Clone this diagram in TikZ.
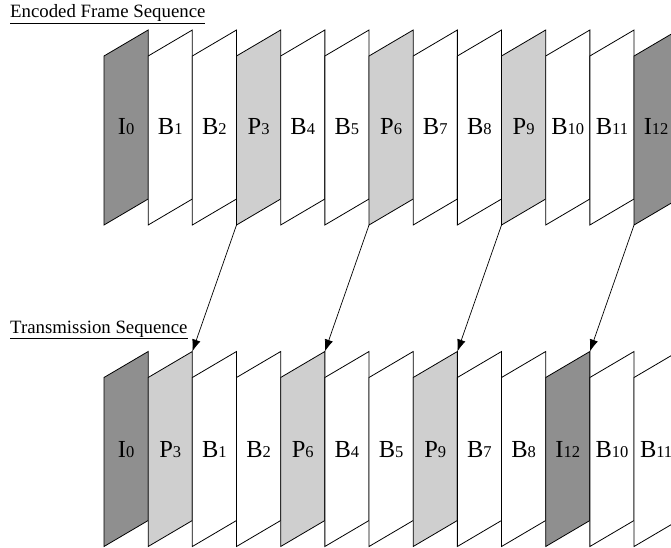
\documentclass[tikz,border=0pt]{standalone}
\usepackage{fontspec}
\setmainfont{Liberation Serif}
\usetikzlibrary{arrows.meta}
\definecolor{iframe}{RGB}{143,143,143}
\definecolor{pframe}{RGB}{207,207,207}
\tikzset{
  frm/.style={draw=black, line width=0.8pt, line join=miter},
  lbl/.style={inner sep=0pt, anchor=base},
  ttl/.style={inner sep=0pt, anchor=base west, font=\fontsize{18.8}{18.8}\selectfont},
  link/.style={-{Latex[length=12pt,width=8.5pt]}, line width=0.7pt}
}
\newcommand{\flabel}[2]{{\fontsize{24.5}{24.5}\selectfont #1}{\fontsize{16.5}{16.5}\selectfont #2}}
\begin{document}
\begin{tikzpicture}[x=1pt,y=-1pt]
\useasboundingbox (0,0) rectangle (671,548);
\clip (0,0) rectangle (671,548);
% titles
\node[ttl] (enc) at (10,18) {\underline{Encoded Frame Sequence}};
\node[ttl] (trn) at (10,333) {\underline{Transmission Sequence}};
% top row
\foreach \i/\L/\n/\c in {0/I/0/iframe,1/B/1/white,2/B/2/white,3/P/3/pframe,4/B/4/white,5/B/5/white,6/P/6/pframe,7/B/7/white,8/B/8/white,9/P/9/pframe,10/B/10/white,11/B/11/white,12/I/12/iframe}{
  \pgfmathsetmacro{\xl}{104+44.17*\i}
  \pgfmathsetmacro{\xr}{\xl+44.17}
  \pgfmathsetmacro{\xc}{\xl+22.08}
  \path[frm, fill=\c] (\xl,56) -- (\xr,30) -- (\xr,199) -- (\xl,225) -- cycle;
  \coordinate (t\i bl) at (\xl,225);
  \node[lbl] (t\i) at (\xc,135) {\flabel{\L}{\n}};
}
% bottom row
\foreach \i/\L/\n/\c in {0/I/0/iframe,1/P/3/pframe,2/B/1/white,3/B/2/white,4/P/6/pframe,5/B/4/white,6/B/5/white,7/P/9/pframe,8/B/7/white,9/B/8/white,10/I/12/iframe,11/B/10/white,12/B/11/white}{
  \pgfmathsetmacro{\xl}{104+44.17*\i}
  \pgfmathsetmacro{\xr}{\xl+44.17}
  \pgfmathsetmacro{\xc}{\xl+22.08}
  \path[frm, fill=\c] (\xl,377.5) -- (\xr,351.5) -- (\xr,520.5) -- (\xl,546.5) -- cycle;
  \coordinate (b\i tr) at (\xr,351.5);
  \node[lbl] (b\i) at (\xc,457.5) {\flabel{\L}{\n}};
}
% reordering arrows
\draw[link] (t3bl) -- (b1tr);
\draw[link] (t6bl) -- (b4tr);
\draw[link] (t9bl) -- (b7tr);
\draw[link] (t12bl) -- (b10tr);
\end{tikzpicture}
\end{document}
